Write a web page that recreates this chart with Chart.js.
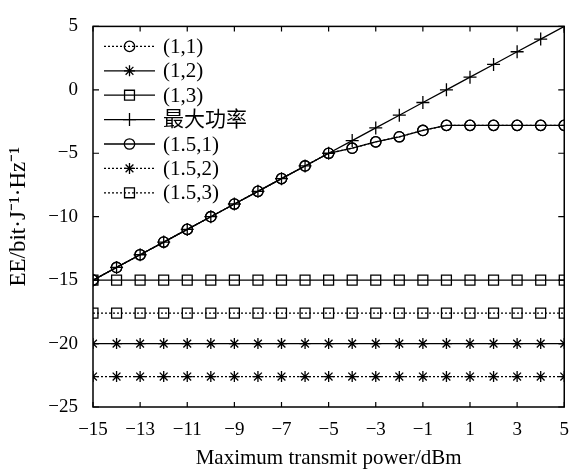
<!DOCTYPE html>
<html>
<head>
<meta charset="utf-8">
<script src="https://cdn.jsdelivr.net/npm/chart.js@4/dist/chart.umd.min.js"></script>
<style>
html, body { margin: 0; padding: 0; background: #fff; }
#wrap { width: 581px; height: 471px; }
</style>
</head>
<body>
<div id="wrap"><canvas id="c"></canvas></div>
<script>
const FONT = "'Liberation Serif', 'Times New Roman', 'Noto Sans CJK SC', serif"

// x: maximum transmit power (dBm)
const powers = [-15, -14, -13, -12, -11, -10, -9, -8, -7, -6, -5, -4, -3, -2, -1, 0, 1, 2, 3, 4, 5]

// EE series
const ee_1_1 = [-15, -14, -13, -12, -11, -10, -9, -8, -7, -6, -5, -4.6, -4.1, -3.7, -3.2, -2.8, -2.8, -2.8, -2.8, -2.8, -2.8]
const ee_1_2 = [-20, -20, -20, -20, -20, -20, -20, -20, -20, -20, -20, -20, -20, -20, -20, -20, -20, -20, -20, -20, -20]
const ee_1_3 = [-15, -15, -15, -15, -15, -15, -15, -15, -15, -15, -15, -15, -15, -15, -15, -15, -15, -15, -15, -15, -15]
const ee_max = [-15, -14, -13, -12, -11, -10, -9, -8, -7, -6, -5, -4, -3, -2, -1, 0, 1, 2, 3, 4, 5]
const ee_15_1 = [-15, -14, -13, -12, -11, -10, -9, -8, -7, -6, -5, -4.6, -4.1, -3.7, -3.2, -2.8, -2.8, -2.8, -2.8, -2.8, -2.8]
const ee_15_2 = [-22.6, -22.6, -22.6, -22.6, -22.6, -22.6, -22.6, -22.6, -22.6, -22.6, -22.6, -22.6, -22.6, -22.6, -22.6, -22.6, -22.6, -22.6, -22.6, -22.6, -22.6]
const ee_15_3 = [-17.6, -17.6, -17.6, -17.6, -17.6, -17.6, -17.6, -17.6, -17.6, -17.6, -17.6, -17.6, -17.6, -17.6, -17.6, -17.6, -17.6, -17.6, -17.6, -17.6, -17.6]

const xTicks = [-15, -13, -11, -9, -7, -5, -3, -1, 1, 3, 5]
const yTicks = [-25, -20, -15, -10, -5, 0, 5]

const DOTTED = [2, 2]

function makeSet(label, values, pointStyle, radius, dash) {
	return {
		label,
		data: values.map((y, i) => ({ x: powers[i], y })),
		borderColor: "#000",
		backgroundColor: "rgba(0,0,0,0)",
		borderWidth: 1.3,
		borderDash: dash,
		pointStyle,
		pointRadius: radius,
		pointBorderColor: "#000",
		pointBackgroundColor: "rgba(0,0,0,0)",
		pointBorderWidth: 1.3,
		tension: 0,
	}
}

const datasets = [
	makeSet("(1,1)", ee_1_1, "circle", 5.2, DOTTED),
	makeSet("(1,2)", ee_1_2, "star", 5.5, []),
	makeSet("(1,3)", ee_1_3, "rect", 7, []),
	makeSet("最大功率", ee_max, "cross", 6.5, []),
	makeSet("(1.5,1)", ee_15_1, "circle", 5.2, []),
	makeSet("(1.5,2)", ee_15_2, "star", 5.5, DOTTED),
	makeSet("(1.5,3)", ee_15_3, "rect", 7, DOTTED),
]

function minus(v) {
	return v < 0 ? "\u2212" + Math.abs(v) : String(v)
}

// frame + inward ticks on all four sides
const framePlugin = {
	id: "frame",
	afterDraw(chart) {
		const { ctx, chartArea: a, scales } = chart
		ctx.save()
		ctx.strokeStyle = "#000"
		ctx.lineWidth = 1.5
		ctx.strokeRect(a.left, a.top, a.right - a.left, a.bottom - a.top)
		ctx.lineWidth = 1.2
		ctx.beginPath()
		xTicks.forEach((t) => {
			const px = scales.x.getPixelForValue(t)
			ctx.moveTo(px, a.bottom); ctx.lineTo(px, a.bottom - 5)
			ctx.moveTo(px, a.top); ctx.lineTo(px, a.top + 5)
		})
		yTicks.forEach((t) => {
			const py = scales.y.getPixelForValue(t)
			ctx.moveTo(a.left, py); ctx.lineTo(a.left + 6, py)
			ctx.moveTo(a.right, py); ctx.lineTo(a.right - 6, py)
		})
		ctx.stroke()
		ctx.restore()
	},
}

// legend with line sample + marker, inside top-left
const legendPlugin = {
	id: "lineLegend",
	afterDatasetsDraw(chart) {
		const { ctx, chartArea: a } = chart
		ctx.save()
		ctx.textBaseline = "middle"
		chart.data.datasets.forEach((ds, i) => {
			const y = a.top + 20 + i * 24.4
			const x0 = a.left + 11, x1 = a.left + 62
			ctx.strokeStyle = "#000"
			ctx.lineWidth = ds.borderWidth
			ctx.setLineDash(ds.borderDash)
			ctx.beginPath()
			ctx.moveTo(x0, y); ctx.lineTo(x1, y)
			ctx.stroke()
			ctx.setLineDash([])
			ctx.fillStyle = "rgba(0,0,0,0)"
			Chart.helpers.drawPoint(ctx, {
				pointStyle: ds.pointStyle,
				radius: ds.pointRadius,
				borderWidth: ds.pointBorderWidth,
				rotation: 0,
			}, (x0 + x1) / 2, y)
			ctx.fillStyle = "#000"
			ctx.font = "21px " + FONT
			ctx.fillText(ds.label, a.left + 70, y + 1)
		})
		ctx.restore()
	},
}

new Chart(document.getElementById("c"), {
	type: "line",
	data: { datasets },
	options: {
		responsive: true,
		maintainAspectRatio: false,
		animation: false,
		layout: { padding: { top: 20, right: 5, left: 0, bottom: 0 } },
		plugins: { legend: { display: false }, tooltip: { enabled: false } },
		scales: {
			x: {
				type: "linear",
				min: -15,
				max: 5,
				afterBuildTicks: (s) => { s.ticks = xTicks.map((v) => ({ value: v })) },
				afterFit: (s) => { s.height = 64 },
				grid: { display: false, drawTicks: false },
				border: { display: false },
				ticks: { color: "#000", font: { family: FONT, size: 19 }, padding: 12, maxRotation: 0, callback: minus },
				title: { display: true, text: "Maximum transmit power/dBm", color: "#000", font: { family: FONT, size: 21 }, padding: { top: 0, bottom: 0 } },
			},
			y: {
				type: "linear",
				min: -25,
				max: 5,
				afterBuildTicks: (s) => { s.ticks = yTicks.map((v) => ({ value: v })) },
				afterFit: (s) => { s.width = 93 },
				grid: { display: false, drawTicks: false },
				border: { display: false },
				ticks: { color: "#000", font: { family: FONT, size: 19 }, padding: 15, callback: minus },
				title: { display: true, text: "EE/bit\u00B7J\u207B\u00B9\u00B7Hz\u207B\u00B9", color: "#000", font: { family: FONT, size: 23 }, padding: { top: 5, bottom: 6 } },
			},
		},
	},
	plugins: [framePlugin, legendPlugin],
})
</script>
</body>
</html>
